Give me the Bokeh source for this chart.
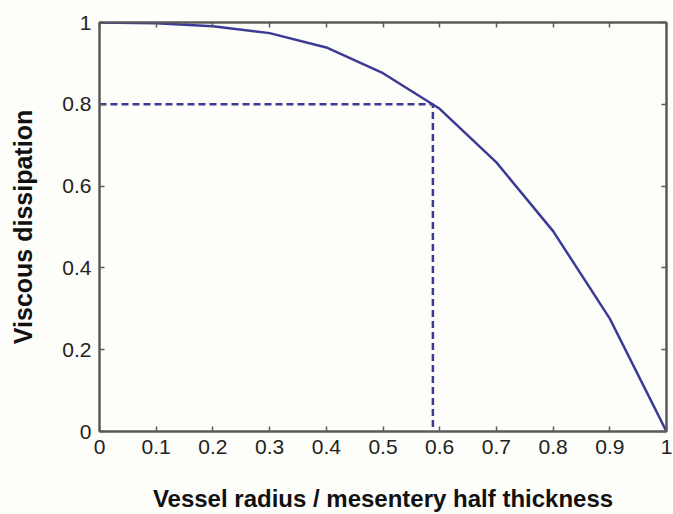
from bokeh.plotting import figure
from bokeh.models import FixedTicker, LinearAxis, Range1d, CustomLabelingPolicy
from bokeh.embed import file_html
from bokeh.resources import INLINE

# Data
ratio = [0.0, 0.1, 0.2, 0.3, 0.4, 0.5, 0.6, 0.7, 0.8, 0.9, 1.0]
dissipation = [1.0, 0.998, 0.991, 0.974, 0.939, 0.876, 0.789, 0.658, 0.49, 0.276, 0.0]
marker_x = 0.588
marker_y = 0.8

x_ticks = [0, 0.1, 0.2, 0.3, 0.4, 0.5, 0.6, 0.7, 0.8, 0.9, 1]
x_labels = ["0", "0.1", "0.2", "0.3", "0.4", "0.5", "0.6", "0.7", "0.8", "0.9", "1"]
y_ticks = [0, 0.2, 0.4, 0.6, 0.8, 1]
y_labels = ["0", "0.2", "0.4", "0.6", "0.8", "1"]

LINE = "#3b3b96"
AXIS = "#5a5a5a"
BG = "#fdfdfa"
FONT = "Liberation Sans"

p = figure(width=673, height=514, output_backend="svg", toolbar_location=None,
           x_range=Range1d(0, 1), y_range=Range1d(0, 1),
           frame_width=567, frame_height=409,
           min_border_left=99, min_border_top=22, min_border_right=7, min_border_bottom=83)
p.background_fill_color = BG
p.border_fill_color = BG
p.outline_line_color = AXIS
p.outline_line_width = 2
p.grid.visible = False

p.line(ratio, dissipation, line_color=LINE, line_width=2.5)
p.line([0, marker_x, marker_x], [marker_y, marker_y, 0], line_color=LINE,
       line_width=2.5, line_dash="7 4")

def style(ax, ticks, labels, show, standoff=0):
    ax.ticker = FixedTicker(ticks=ticks)
    ax.major_tick_in = 5
    ax.major_tick_out = 0
    ax.minor_tick_in = 0
    ax.minor_tick_out = 0
    ax.major_tick_line_color = AXIS
    ax.major_tick_line_width = 1.5
    ax.axis_line_color = AXIS
    ax.axis_line_width = 2
    if show:
        ax.major_label_overrides = {t: l for t, l in zip(ticks, labels)}
        ax.major_label_text_font = FONT
        ax.major_label_text_font_size = "21px"
        ax.major_label_text_color = "#222222"
        ax.major_label_standoff = standoff
    else:
        ax.major_label_policy = CustomLabelingPolicy(code="return []")
        ax.major_label_standoff = 0

xa = p.xaxis[0]
style(xa, x_ticks, x_labels, True, 8)
xa.axis_label = "Vessel radius / mesentery half thickness"
xa.axis_label_text_font = FONT
xa.axis_label_text_font_style = "bold"
xa.axis_label_text_font_size = "24px"
xa.axis_label_text_color = "#111111"
xa.axis_label_standoff = 28

ya = p.yaxis[0]
style(ya, y_ticks, y_labels, True, 8)
ya.axis_label = "Viscous dissipation"
ya.axis_label_text_font = FONT
ya.axis_label_text_font_style = "bold"
ya.axis_label_text_font_size = "25px"
ya.axis_label_text_color = "#111111"
ya.axis_label_standoff = 22

top = LinearAxis()
style(top, x_ticks, x_labels, False)
p.add_layout(top, "above")
right = LinearAxis()
style(right, y_ticks, y_labels, False)
p.add_layout(right, "right")

open("out.html", "w").write(file_html(p, INLINE))
